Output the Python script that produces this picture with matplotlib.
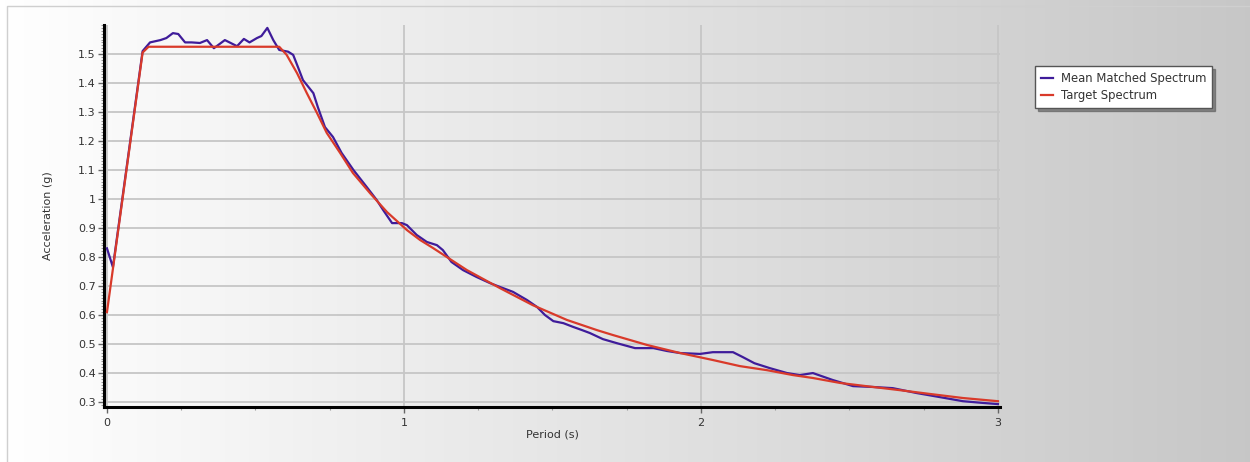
import matplotlib
matplotlib.use('Agg')
import matplotlib.pyplot as plt
import numpy as np
from matplotlib.ticker import MultipleLocator, FuncFormatter

# Mean matched spectrum (period in s, acceleration in g)
matched_period = [0.0, 0.02, 0.12, 0.145, 0.18, 0.2, 0.222, 0.24, 0.263, 0.285, 0.313, 0.337,
                  0.36, 0.397, 0.438, 0.461, 0.48, 0.505, 0.52, 0.54, 0.56, 0.58, 0.61, 0.627,
                  0.645, 0.66, 0.695, 0.71, 0.734, 0.761, 0.79, 0.83, 0.875, 0.908, 0.93, 0.96,
                  0.993, 1.01, 1.043, 1.077, 1.111, 1.131, 1.16, 1.199, 1.245, 1.29, 1.323, 1.367,
                  1.414, 1.448, 1.475, 1.503, 1.537, 1.57, 1.6, 1.626, 1.67, 1.717, 1.778, 1.84,
                  1.886, 1.93, 1.997, 2.04, 2.108, 2.141, 2.18, 2.232, 2.29, 2.333, 2.377, 2.444,
                  2.512, 2.58, 2.646, 2.727, 2.805, 2.882, 2.95, 3.0]
matched_accel = [0.83, 0.765, 1.51, 1.54, 1.548, 1.555, 1.572, 1.569, 1.54, 1.54, 1.538, 1.548,
                 1.52, 1.548, 1.527, 1.552, 1.54, 1.555, 1.562, 1.59, 1.548, 1.514, 1.508, 1.497,
                 1.45, 1.41, 1.365, 1.317, 1.248, 1.214, 1.159, 1.1, 1.041, 0.997, 0.962, 0.917,
                 0.917, 0.91, 0.876, 0.852, 0.841, 0.824, 0.783, 0.755, 0.731, 0.71, 0.697, 0.68,
                 0.652, 0.628, 0.6, 0.579, 0.572, 0.559, 0.548, 0.538, 0.517, 0.503, 0.486, 0.486,
                 0.476, 0.469, 0.466, 0.472, 0.472, 0.455, 0.434, 0.417, 0.4, 0.393, 0.4, 0.376,
                 0.355, 0.352, 0.348, 0.331, 0.317, 0.303, 0.297, 0.293]

# Target design spectrum
target_period = [0.0, 0.12, 0.14, 0.58, 0.605, 0.64, 0.673, 0.707, 0.74, 0.785, 0.828, 0.886,
                 0.943, 1.01, 1.054, 1.098, 1.212, 1.323, 1.434, 1.549, 1.65, 1.704, 1.818,
                 1.93, 2.04, 2.131, 2.222, 2.31, 2.377, 2.468, 2.58, 2.67, 2.771, 2.882, 3.0]
target_accel = [0.61, 1.505, 1.525, 1.525, 1.497, 1.434, 1.365, 1.297, 1.228, 1.159, 1.09, 1.02,
                0.955, 0.893, 0.859, 0.831, 0.755, 0.693, 0.634, 0.583, 0.548, 0.531, 0.497,
                0.469, 0.445, 0.424, 0.41, 0.393, 0.383, 0.366, 0.352, 0.341, 0.328, 0.314, 0.303]

W, H = 1250, 462
fig = plt.figure(figsize=(W / 100, H / 100), dpi=100)

# horizontal white-to-grey backdrop
bg = fig.add_axes([0, 0, 1, 1], zorder=-10)
grad = np.linspace(1.0, 0.78, 256)[None, :]
bg.imshow(np.dstack([grad, grad, grad]), aspect='auto', extent=[0, 1, 0, 1])
bg.plot([7 / W, 7 / W, 1], [0, 1 - 6 / H, 1 - 6 / H], color='#cfcfcf', lw=1)
bg.set_xlim(0, 1)
bg.set_ylim(0, 1)
bg.axis('off')

ax = fig.add_axes([104 / W, 1 - 407 / H, (1000 - 104) / W, (407 - 25) / H])
ax.set_facecolor('none')

ax.plot(matched_period, matched_accel, color='#3f1c9a', lw=1.6, label='Mean Matched Spectrum', zorder=3)
ax.plot(target_period, target_accel, color='#d93a2a', lw=1.6, label='Target Spectrum', zorder=4)

ax.set_xlim(-0.01, 3.007)
ax.set_ylim(0.283, 1.6)

ax.xaxis.set_major_locator(MultipleLocator(1))
ax.xaxis.set_minor_locator(MultipleLocator(0.25))
ax.set_yticks(np.round(np.arange(0.3, 1.51, 0.1), 1))
ax.yaxis.set_minor_locator(MultipleLocator(0.01))
ax.yaxis.set_major_formatter(FuncFormatter(lambda v, p: f'{v:g}'))

ax.grid(True, which='major', color='#c6c6c6', lw=1.3)
ax.set_axisbelow(True)

for side in ['top', 'right']:
    ax.spines[side].set_visible(False)
for side in ['left', 'bottom']:
    ax.spines[side].set_linewidth(2.2)
    ax.spines[side].set_color('black')

ax.tick_params(which='major', length=4, width=1, color='#666666', labelsize=8, labelcolor='#333333')
ax.tick_params(which='minor', length=2, width=0.8, color='#999999')
ax.tick_params(axis='x', pad=4)
ax.tick_params(axis='y', pad=2)

ax.set_xlabel('Period (s)', fontsize=8, color='#333333', labelpad=1)
ax.set_ylabel('Acceleration (g)', fontsize=8, color='#333333', labelpad=18)

leg = ax.legend(loc='upper left', bbox_to_anchor=(1035 / W, 1 - 66 / H), bbox_transform=fig.transFigure,
                borderaxespad=0, fontsize=8.4, frameon=True, fancybox=False,
                shadow={'color': '#555555', 'alpha': 0.6, 'ox': 2, 'oy': -2},
                handlelength=1.0, handletextpad=0.7, borderpad=0.5, labelspacing=0.35)
leg.get_frame().set_edgecolor('#555555')
leg.get_frame().set_linewidth(1)
for t in leg.get_texts():
    t.set_color('#333333')

fig.savefig('out.png', dpi=100)
